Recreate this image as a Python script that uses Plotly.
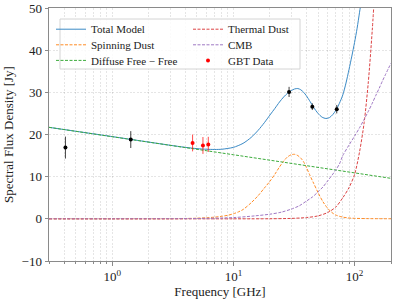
import plotly.graph_objects as go

# ---------------- data ----------------
ff_freq = [0.3, 1, 10, 100, 200]
ff_flux = [21.7, 19.5, 15.2, 10.9, 9.6]

spin_freq = [0.3, 1, 2, 3, 4, 5, 6, 7, 8, 9, 10, 11, 12, 14, 16, 18, 20, 22, 24, 26, 28,
             30, 32, 34, 36, 38, 40, 43, 46, 50, 55, 60, 65, 70, 80, 90, 100, 130, 200]
spin_flux = [0, 0, 0.01, 0.03, 0.08, 0.15, 0.26, 0.4, 0.6, 0.85, 1.2, 1.65, 2.2, 3.8, 5.5, 7.3,
             8.9, 10.6, 12.3, 13.7, 14.7, 15.2, 15.3, 15.0, 14.4, 13.5, 12.2, 10.2, 8.4, 6.2,
             4.0, 2.5, 1.5, 0.9, 0.4, 0.2, 0.12, 0.05, 0.02]

cmb_freq = [0.3, 1, 3, 5, 10, 15, 20, 25, 30, 35, 40, 45, 50, 55, 60, 65, 70, 75, 80, 90,
            100, 110, 120, 130, 140, 150, 160, 170, 180, 190, 200]
cmb_flux = [0, 0.003, 0.03, 0.08, 0.3, 0.7, 1.1, 1.6, 2.3, 3.1, 4.2, 5.2, 6.4, 7.6, 9.0,
            10.3, 11.6, 13.0, 15.0, 17.5, 19.6, 21.6, 23.6, 25.5, 27.4, 29.3, 31.0, 32.7,
            34.2, 35.6, 36.9]

dust_freq = [0.3, 10, 20, 30, 40, 50, 60, 70, 80, 90, 100, 110, 120, 130, 140, 150]
dust_flux = [0, 0.0, 0.02, 0.1, 0.3, 0.7, 1.5, 2.8, 5.0, 7.4, 10.5, 15.9, 22.8, 32.5, 44.7, 58.5]

total_freq = [0.3, 1, 2, 3, 4, 5, 6, 7, 8, 9, 10, 12, 14, 16, 18, 20, 22, 24, 26, 28, 30, 32,
              34, 36, 38, 40, 43, 46, 50, 54, 58, 62, 66, 70, 75, 80, 85, 90, 95, 100, 105,
              110, 115]
total_flux = [21.7, 19.5, 18.2, 17.45, 16.95, 16.65, 16.5, 16.45, 16.5, 16.7, 16.95, 17.9,
              19.3, 21.0, 22.8, 24.6, 26.2, 27.7, 28.9, 29.8, 30.4, 30.8, 30.9, 30.6, 30.0,
              29.2, 27.8, 26.4, 25.0, 24.1, 23.8, 24.0, 24.7, 25.7, 27.4, 29.4, 32.2, 35.4,
              38.6, 41.8, 45.2, 49.0, 52.6]

other_freq = [0.41, 1.42, 28.8, 44.8, 71.3]
other_flux = [16.9, 18.8, 30.1, 26.6, 26.0]
other_err = [2.6, 2.0, 1.2, 0.8, 1.0]

gbt_freq = [4.6, 5.6, 6.2]
gbt_flux = [18.0, 17.4, 17.65]
gbt_err = [2.0, 2.0, 1.8]

x_tickvals = [1, 10, 100]
x_ticktext = ["10<sup>0</sup>", "10<sup>1</sup>", "10<sup>2</sup>"]
x_minor_vals = [0.3, 0.4, 0.5, 0.6, 0.7, 0.8, 0.9, 2, 3, 4, 5, 6, 7, 8, 9,
                20, 30, 40, 50, 60, 70, 80, 90, 200]
y_tickvals = [-10, 0, 10, 20, 30, 40, 50]

# ---------------- figure ----------------
FONT = "Liberation Serif, DejaVu Serif, serif"
W, H = 399, 299
ML, MR, MT, MB = 49, 8, 8, 38
PW, PH = W - ML - MR, H - MT - MB


def px2paper(x, y):
    return (x - ML) / PW, (H - MB - y) / PH


fig = go.Figure()

dash = "3px,1.5px"
fig.add_trace(go.Scatter(x=total_freq, y=total_flux, mode="lines", name="Total Model",
                         line=dict(color="#3a8ac6", width=1, shape="spline", smoothing=0.8),
                         legend="legend"))
fig.add_trace(go.Scatter(x=spin_freq, y=spin_flux, mode="lines", name="Spinning Dust",
                         line=dict(color="#ff8c26", width=1, dash=dash,
                                   shape="spline", smoothing=0.8),
                         legend="legend2"))
fig.add_trace(go.Scatter(x=ff_freq, y=ff_flux, mode="lines", name="Diffuse Free − Free",
                         line=dict(color="#3dac3d", width=1, dash=dash),
                         legend="legend3"))
fig.add_trace(go.Scatter(x=dust_freq, y=dust_flux, mode="lines", name="Thermal Dust",
                         line=dict(color="#dc4243", width=1, dash=dash,
                                   shape="spline", smoothing=0.8),
                         legend="legend4"))
fig.add_trace(go.Scatter(x=cmb_freq, y=cmb_flux, mode="lines", name="CMB",
                         line=dict(color="#9f78c4", width=1, dash=dash,
                                   shape="spline", smoothing=0.8),
                         legend="legend5"))
fig.add_trace(go.Scatter(x=other_freq, y=other_flux, mode="markers", showlegend=False,
                         marker=dict(color="black", size=4),
                         error_y=dict(type="data", array=other_err, color="rgba(0,0,0,0.75)",
                                      thickness=1, width=0)))
fig.add_trace(go.Scatter(x=gbt_freq, y=gbt_flux, mode="markers", name="GBT Data",
                         marker=dict(color="red", size=4),
                         error_y=dict(type="data", array=gbt_err, color="rgba(255,0,0,0.7)",
                                      thickness=1, width=0),
                         legend="legend6"))

leg_font = dict(family=FONT, size=11, color="#222")
rows = [29.2, 44.8, 60.4]
cols = [51, 188]
legends = {}
names = ["legend", "legend2", "legend3", "legend4", "legend5", "legend6"]
for i, nm in enumerate(names):
    c, r = divmod(i, 3)
    lx, ly = px2paper(cols[c], rows[r])
    legends[nm] = dict(x=lx, y=ly, xanchor="left", yanchor="middle",
                       bgcolor="rgba(0,0,0,0)", borderwidth=0, font=leg_font,
                       itemwidth=30)

bx0, by1 = px2paper(60, 19)
bx1, by0 = px2paper(300, 69)

grid_col = "rgba(0,0,0,0.10)"
grid_dash = "2px,1.5px"
axis_col = "#8a8a8a"

fig.update_layout(
    width=W, height=H,
    margin=dict(l=ML, r=MR, t=MT, b=MB, autoexpand=False),
    paper_bgcolor="white", plot_bgcolor="white",
    font=dict(family=FONT, size=13, color="#222"),
    shapes=[dict(type="rect", xref="paper", yref="paper", x0=bx0, x1=bx1, y0=by0, y1=by1,
                 line=dict(color="#d4d4d4", width=1), fillcolor="rgba(255,255,255,0.85)",
                 layer="above")],
    xaxis=dict(type="log", range=[-0.5229, 2.30103], tickvals=x_tickvals, ticktext=x_ticktext,
               ticks="outside", ticklen=3.5, tickcolor=axis_col, showline=True, mirror=True,
               linecolor=axis_col, linewidth=1, showgrid=True, gridcolor=grid_col,
               griddash=grid_dash, gridwidth=0.7, zeroline=False, automargin=False,
               tickfont=dict(family=FONT, size=13, color="#222"),
               minor=dict(tickvals=x_minor_vals, ticks="outside", ticklen=2,
                          tickcolor=axis_col, showgrid=True,
                          gridcolor=grid_col, griddash=grid_dash, gridwidth=0.7),
               title=dict(text="Frequency [GHz]", font=dict(family=FONT, size=13),
                          standoff=0)),
    yaxis=dict(range=[-10, 50], tickvals=y_tickvals, ticks="outside", ticklen=3.5,
               tickcolor=axis_col, showline=True, mirror=True, linecolor=axis_col,
               linewidth=1, showgrid=True, gridcolor=grid_col, griddash=grid_dash,
               gridwidth=0.7, zeroline=False, automargin=False,
               tickfont=dict(family=FONT, size=13, color="#222"),
               title=dict(text="Spectral Flux Density [Jy]", font=dict(family=FONT, size=13),
                          standoff=5)),
    **legends,
)

fig.write_html("out.html", config={"displayModeBar": False},
               post_script="document.body.style.margin='0px';")
